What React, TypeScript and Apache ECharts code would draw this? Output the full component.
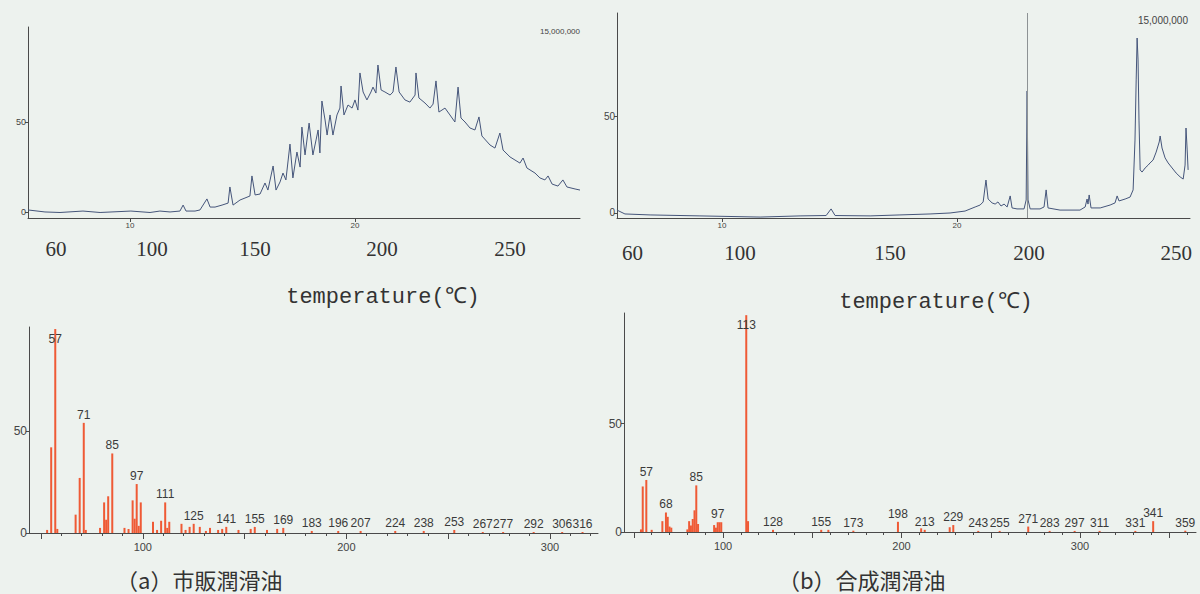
import React, { useEffect, useRef } from "react";
import * as echarts from "echarts";

// ---------- Chromatogram (a) commercial oil: retention time (min) / relative intensity ----------
const chromA_time = [5.47, 6.22, 6.89, 7.91, 8.67, 10.04, 10.89, 11.33, 11.78, 12.22,
  12.36, 12.49, 12.89, 13.11, 13.42, 13.56, 13.78, 14.09, 14.36, 14.44,
  14.58, 14.89, 15.11, 15.33, 15.42, 15.56, 15.78, 16.0, 16.13, 16.36,
  16.49, 16.67, 16.8, 16.93, 17.11, 17.24, 17.42, 17.56, 17.64, 17.78,
  17.96, 18.13, 18.27, 18.36, 18.44, 18.53, 18.67, 18.76, 18.89, 19.02,
  19.2, 19.33, 19.38, 19.51, 19.69, 19.87, 20.0, 20.13, 20.22, 20.36,
  20.53, 20.71, 20.8, 20.93, 21.02, 21.16, 21.33, 21.56, 21.69, 21.82,
  21.96, 22.22, 22.44, 22.67, 22.71, 22.84, 23.11, 23.33, 23.47, 23.6,
  23.73, 24.0, 24.22, 24.44, 24.58, 24.71, 24.89, 25.11, 25.33, 25.51,
  25.64, 26.0, 26.22, 26.44, 26.58, 26.89, 27.11, 27.33, 27.47, 27.64,
  28.0, 28.22, 28.44, 28.58, 28.76, 29.02, 29.24, 29.42, 29.78, 30.0];
const chromA_int = [1.4, 0.3, 0, 0.8, 0, 0.8, 0, 0.8, 0.3, 0.8,
  4.1, 0.8, 0.8, 1.4, 7.5, 3.0, 3.0, 4.1, 5.2, 14.1,
  4.1, 6.9, 8.0, 9.1, 20.2, 9.7, 10.2, 16.3, 12.4, 25.7,
  12.4, 16.9, 21.8, 18.0, 37.8, 19.1, 33.4, 25.1, 47.2, 31.8,
  49.4, 31.8, 40.1, 45.6, 32.9, 61.6, 51.1, 42.8, 53.9, 42.8,
  53.9, 57.7, 69.9, 53.9, 59.4, 57.7, 62.2, 56.6, 77.1, 66.6,
  62.2, 66.6, 69.3, 66.0, 81.5, 67.7, 66.6, 64.9, 66.6, 80.4,
  66.6, 62.2, 61.0, 64.9, 77.1, 63.3, 60.5, 57.7, 59.9, 72.7,
  55.5, 57.7, 53.9, 50.0, 69.3, 52.2, 50.0, 46.7, 45.6, 52.8,
  42.3, 37.3, 35.6, 43.9, 34.5, 30.7, 29.0, 27.3, 30.1, 24.6,
  21.8, 19.1, 18.0, 20.2, 15.7, 14.6, 18.0, 14.1, 13.0, 12.4];

// ---------- Chromatogram (b) synthetic oil ----------
const chromB_time = [5.53, 5.87, 6.94, 9.06, 11.62, 13.32, 14.43, 14.64, 14.81, 16.3,
  17.57, 18.85, 19.7, 20.34, 20.77, 20.98, 21.11, 21.23, 21.32, 21.49,
  21.62, 21.74, 21.87, 22.0, 22.13, 22.26, 22.34, 22.55, 22.85, 22.94,
  22.98, 23.02, 23.11, 23.53, 23.7, 23.79, 23.87, 24.38, 25.23, 25.45,
  25.53, 25.57, 25.62, 25.7, 26.09, 26.51, 26.72, 26.81, 26.89, 27.15,
  27.36, 27.49, 27.57, 27.62, 27.66, 27.7, 27.74, 27.79, 27.87, 28.0,
  28.13, 28.21, 28.34, 28.47, 28.6, 28.64, 28.72, 28.85, 28.98, 29.15,
  29.32, 29.49, 29.62, 29.7, 29.74, 29.79, 29.83];
const chromB_int = [1.5, -0.5, -1.0, -1.5, -2.1, -1.5, -1.3, 2.1, -1.3, -1.5,
  -1.0, -0.5, 0, 1.0, 3.1, 4.1, 5.7, 17.0, 7.2, 5.2,
  4.6, 5.7, 3.6, 4.6, 3.1, 8.8, 2.6, 2.1, 2.1, 6.7,
  62.9, 6.7, 2.1, 2.1, 3.1, 11.9, 2.6, 1.5, 1.5, 3.1,
  7.2, 4.6, 9.3, 2.6, 2.6, 4.1, 5.2, 8.8, 6.2, 7.2,
  8.2, 11.9, 37.6, 68.6, 90.2, 78.9, 47.9, 22.2, 21.1, 23.2,
  24.7, 25.8, 27.3, 31.4, 36.6, 39.7, 33.5, 28.4, 25.8, 23.2,
  20.6, 18.6, 17.5, 24.7, 43.8, 32.5, 22.2];
const chromB_marker = 22.98;

const timeTickLabels = [10, 20];
const chromYLabels = [0, 50];
const tempLabels = ["60", "100", "150", "200", "250"];
const tempTimesA = [6.71, 10.98, 15.56, 21.2, 26.89];
const tempTimesB = [6.19, 10.77, 17.15, 23.06, 29.32];
const fullScaleText = "15,000,000";

// ---------- Mass spectrum (a) ----------
const specA_mz = [53, 55, 57, 58, 67, 69, 71, 72, 79, 81, 82, 83, 85, 91, 93, 95, 96, 97, 98, 99,
  105, 107, 109, 111, 112, 113, 119, 121, 123, 125, 128, 131, 133, 137, 139, 141, 147, 153, 155, 161,
  166, 169, 183, 196, 207, 224, 238, 253, 267, 277, 292, 306, 316];
const specA_int = [1.5, 42, 100, 2, 9, 27, 54, 1.5, 2.5, 15, 6.5, 18, 39, 2.5, 2, 16, 7, 24, 3.5, 15,
  5.5, 1.5, 6, 15, 2.5, 5.5, 4.5, 1.5, 3, 4.5, 3, 1, 2.5, 1.5, 2, 3, 1.5, 2, 3, 1.5,
  2, 2.5, 1, 1, 1, 1, 1, 1.5, 0.5, 0.5, 0.5, 0.5, 0.5];
const specA_labeled = [57, 71, 85, 97, 111, 125, 141, 155, 169, 183, 196, 207, 224, 238, 253, 267, 277, 292, 306, 316];

// ---------- Mass spectrum (b) ----------
const specB_mz = [54, 55, 57, 60, 66, 68, 69, 70, 71, 80, 81, 82, 83, 84, 85, 86, 95, 96, 97, 98,
  99, 113, 114, 128, 155, 159, 173, 198, 211, 213, 227, 229, 243, 255, 271, 283, 297, 311, 331, 341, 359];
const specB_int = [1.2, 21, 24, 1, 5, 9, 7, 2.5, 2, 1.2, 5, 3, 6, 10, 21.5, 3.7, 3.2, 2, 4.5, 4.5,
  4.5, 100, 5, 1, 1, 1, 0.6, 4.7, 1.7, 1, 2.2, 3.2, 0.5, 0.5, 2.5, 0.5, 0.5, 0.5, 0.5, 5, 0.6];
const specB_labeled = [57, 68, 85, 97, 113, 128, 155, 173, 198, 213, 229, 243, 255, 271, 283, 297, 311, 331, 341, 359];

const specXLabels = [100, 200, 300];
const specMajorA = [50, 100, 150, 200, 250, 300];
const specMinorA = [50, 60, 70, 80, 90, 100, 110, 120, 130, 140, 150, 160, 170, 180, 190, 200, 210, 220, 230, 240, 250, 260, 270, 280, 290, 300, 310, 320];
const specMajorB = [50, 100, 150, 200, 250, 300, 350];
const specMinorB = [50, 60, 70, 80, 90, 100, 110, 120, 130, 140, 150, 160, 170, 180, 190, 200, 210, 220, 230, 240, 250, 260, 270, 280, 290, 300, 310, 320, 330, 340, 350, 360];
const specYLabels = [0, 50];

const captionA = "（a）市販潤滑油";
const captionB = "（b）合成潤滑油";
const tempTitle = "temperature(℃)";

const NARROW = '"Liberation Sans Narrow", "Liberation Sans", Arial, sans-serif';
const SERIF = '"Liberation Serif", "DejaVu Serif", serif';
const MONO = '"Liberation Mono", "DejaVu Sans Mono", monospace';
const CJK = '"Noto Sans CJK JP", "Noto Sans CJK SC", sans-serif';
const BG = "#edf2ee";
const AXIS = "#4a4a4a";
const LINE = "#45557a";
const BAR = "#ef5a35";

function zip(xs: number[], ys: number[]) {
  return xs.map((x, i) => [x, ys[i]]);
}

function barData(mz: number[], it: number[], labeled: number[]) {
  return mz.map((m, i) => ({
    value: [m, it[i]],
    label: {
      show: labeled.includes(m),
      position: it[i] > 90 ? "insideTop" : "top",
      distance: it[i] > 90 ? 4 : 2,
    },
  }));
}

export default function App() {
  const ref = useRef<HTMLDivElement>(null);
  useEffect(() => {
    if (!ref.current) return;
    const chart = echarts.init(ref.current, undefined, { renderer: "svg" });

    const chromX = (grid: number, min: number, max: number) => ({
      type: "value", gridIndex: grid, min, max, position: "bottom",
      axisLine: { show: true, onZero: false, lineStyle: { color: AXIS, width: 1 } },
      axisTick: { show: true, customValues: timeTickLabels, length: 4, lineStyle: { color: AXIS } },
      axisLabel: { customValues: timeTickLabels, fontSize: 8, margin: 3, color: "#444", fontFamily: NARROW },
      splitLine: { show: false },
    });
    const tempX = (grid: number, min: number, max: number, times: number[], margin: number) => ({
      type: "value", gridIndex: grid, min, max, position: "bottom",
      axisLine: { show: false, onZero: false },
      axisTick: { show: false },
      axisLabel: {
        customValues: times, margin, fontSize: 21, color: "#333", fontFamily: SERIF,
        formatter: (v: number) => {
          const i = times.findIndex((t) => Math.abs(t - v) < 1e-6);
          return i >= 0 ? tempLabels[i] : "";
        },
      },
      splitLine: { show: false },
    });
    const specX = (grid: number, min: number, max: number, majors: number[]) => ({
      type: "value", gridIndex: grid, min, max, position: "bottom",
      axisLine: { show: true, onZero: false, lineStyle: { color: AXIS, width: 1 } },
      axisTick: { show: true, customValues: majors, length: 6, lineStyle: { color: AXIS } },
      axisLabel: { customValues: specXLabels, fontSize: 11, margin: 8, color: "#444", fontFamily: NARROW },
      splitLine: { show: false },
    });
    const specMinor = (grid: number, min: number, max: number, minors: number[]) => ({
      type: "value", gridIndex: grid, min, max, position: "bottom",
      axisLine: { show: false, onZero: false },
      axisTick: { show: true, customValues: minors, length: 3, lineStyle: { color: AXIS } },
      axisLabel: { show: false },
      splitLine: { show: false },
    });
    const yAx = (grid: number, min: number, max: number, labels: number[], fs: number) => ({
      type: "value", gridIndex: grid, min, max,
      axisLine: { show: true, onZero: false, lineStyle: { color: AXIS, width: 1 } },
      axisTick: { show: true, customValues: labels, length: 3, lineStyle: { color: AXIS } },
      axisLabel: { customValues: labels, fontSize: fs, margin: 2, color: "#444", fontFamily: NARROW },
      splitLine: { show: false },
    });

    const barLabel = { formatter: (p: any) => String(p.value[0]), fontSize: 12, color: "#3a3a3a", fontFamily: NARROW };

    chart.setOption({
      animation: false,
      backgroundColor: BG,
      grid: [
        { left: 28, top: 27, width: 552, height: 191 },
        { left: 617, top: 13, width: 573, height: 205 },
        { left: 29, top: 327, width: 569, height: 206 },
        { left: 624, top: 313, width: 572, height: 219 },
      ],
      xAxis: [
        chromX(0, 5.467, 30.0),
        chromX(1, 5.532, 29.91),
        tempX(0, 5.467, 30.0, tempTimesA, 20),
        tempX(1, 5.532, 29.91, tempTimesB, 24),
        specX(2, 44.1, 323.6, specMajorA),
        specMinor(2, 44.1, 323.6, specMinorA),
        specX(3, 44.5, 365, specMajorB),
        specMinor(3, 44.5, 365, specMinorB),
      ],
      yAxis: [
        yAx(0, -3.04, 102.5, chromYLabels, 9),
        yAx(1, -2.58, 103.1, chromYLabels, 10),
        yAx(2, 0, 101, specYLabels, 12),
        yAx(3, 0, 101, specYLabels, 12),
      ],
      series: [
        {
          type: "line", xAxisIndex: 0, yAxisIndex: 0, data: zip(chromA_time, chromA_int),
          showSymbol: false, lineStyle: { color: LINE, width: 1 }, silent: true,
        },
        {
          type: "line", xAxisIndex: 1, yAxisIndex: 1, data: zip(chromB_time, chromB_int),
          showSymbol: false, lineStyle: { color: LINE, width: 1 }, silent: true,
          markLine: {
            silent: true, symbol: ["none", "none"], label: { show: false },
            lineStyle: { color: "#8d9294", width: 1, type: "solid" },
            data: [{ xAxis: chromB_marker }],
          },
        },
        {
          type: "bar", xAxisIndex: 4, yAxisIndex: 2, barWidth: 2,
          itemStyle: { color: BAR }, label: barLabel,
          data: barData(specA_mz, specA_int, specA_labeled),
        },
        {
          type: "bar", xAxisIndex: 6, yAxisIndex: 3, barWidth: 2,
          itemStyle: { color: BAR }, label: barLabel,
          data: barData(specB_mz, specB_int, specB_labeled),
        },
      ],
      graphic: [
        { type: "text", x: 580, y: 31, style: { text: fullScaleText, align: "right", verticalAlign: "middle", fontSize: 8, fill: "#444", fontFamily: NARROW } },
        { type: "text", x: 1188, y: 20, style: { text: fullScaleText, align: "right", verticalAlign: "middle", fontSize: 10, fill: "#444", fontFamily: NARROW } },
        { type: "text", x: 383, y: 297, style: { text: tempTitle, align: "center", verticalAlign: "middle", fontSize: 22, fill: "#333", fontFamily: MONO } },
        { type: "text", x: 936, y: 302, style: { text: tempTitle, align: "center", verticalAlign: "middle", fontSize: 22, fill: "#333", fontFamily: MONO } },
        { type: "text", x: 116, y: 579, style: { text: captionA, align: "left", verticalAlign: "middle", fontSize: 22, fill: "#333", fontFamily: CJK } },
        { type: "text", x: 778, y: 579, style: { text: captionB, align: "left", verticalAlign: "middle", fontSize: 22, fill: "#333", fontFamily: CJK } },
      ],
    });
    return () => chart.dispose();
  }, []);

  return (
    <div
      ref={ref}
      style={{ position: "fixed", left: 0, top: 0, width: 1200, height: 594, background: BG }}
    />
  );
}
